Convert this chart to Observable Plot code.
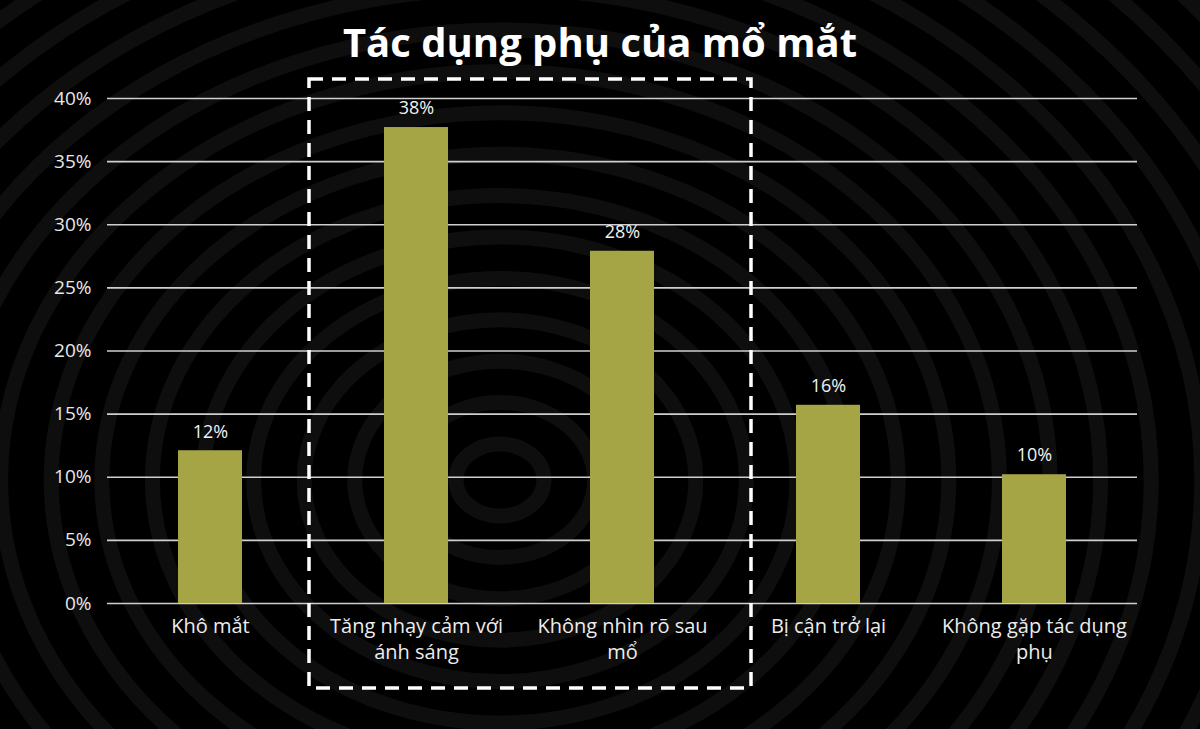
<!DOCTYPE html>
<html><head><meta charset="utf-8">
<script src="https://cdn.jsdelivr.net/npm/d3@7"></script>
<script src="https://cdn.jsdelivr.net/npm/@observablehq/plot@0.6"></script>
<style>
html,body{margin:0;padding:0;background:#000;}
#wrap{position:relative;width:1200px;height:729px;overflow:hidden;background:#000;font-family:"Open Sans",sans-serif;}
#bg{position:absolute;left:0;top:0;}
#title{position:relative;height:70px;line-height:84px;text-align:center;color:#fff;font-weight:700;font-size:40px;}
#chart{position:relative;}
</style></head>
<body><div id="wrap"><svg id="bg" width="1200" height="729"></svg><div id="title">Tác dụng phụ của mổ mắt</div><div id="chart"></div></div>
<script>
const categories = ["Khô mắt", "Tăng nhạy cảm với ánh sáng", "Không nhìn rõ sau mổ", "Bị cận trở lại", "Không gặp tác dụng phụ"];
const tickLabels = ["Khô mắt", "Tăng nhạy cảm với\nánh sáng", "Không nhìn rõ sau\nmổ", "Bị cận trở lại", "Không gặp tác dụng\nphụ"];
const values = [12.1, 37.7, 27.9, 15.7, 10.2];
const yTicks = [0, 5, 10, 15, 20, 25, 30, 35, 40];
const highlighted = ["Tăng nhạy cảm với ánh sáng", "Không nhìn rõ sau mổ"];

const data = categories.map((c, i) => ({cat: c, value: values[i]}));
const labelOf = new Map(categories.map((c, i) => [c, tickLabels[i]]));

// decorative fingerprint-like background
const bg = d3.select("#bg");
for (let r = 40; r < 1100; r += 46) {
  bg.append("ellipse").attr("cx", 500).attr("cy", 480).attr("rx", r * 1.1).attr("ry", r * 0.9)
    .attr("fill", "none").attr("stroke", "#0e0e0e").attr("stroke-width", 15);
}

const chart = Plot.plot({
  width: 1200,
  height: 659,
  marginLeft: 107,
  marginRight: 63,
  marginTop: 28,
  marginBottom: 126,
  style: {background: "transparent", color: "#eee", fontFamily: "Open Sans, sans-serif"},
  x: {domain: categories, paddingInner: 0.69, paddingOuter: 0.345, label: null},
  y: {domain: [0, 40], label: null},
  marks: [
    Plot.ruleY(yTicks, {stroke: "#cfcfcf", strokeWidth: 1.6}),
    Plot.barY(data, {x: "cat", y: "value", fill: "#a5a545"}),
    Plot.text(data, {x: "cat", y: "value", text: d => Math.round(d.value) + "%", dy: -19, fill: "#f2f2f2", fontSize: 18}),
    Plot.axisY({ticks: yTicks, tickSize: 0, tickPadding: 16, tickFormat: d => d + "%", fontSize: 19, fill: "#e8e8e8", label: null}),
    Plot.axisX({tickSize: 0, tickPadding: 11, tickFormat: d => labelOf.get(d), fontSize: 20, lineHeight: 1.3, fill: "#ececec", label: null, textOverflow: null})
  ]
});
document.getElementById("chart").appendChild(chart);

// dashed highlight box around the two highlighted categories, positioned via the chart scales
const xs = chart.scale("x"), ys = chart.scale("y");
const boxLeft = xs.apply(highlighted[0]) - 75;
const boxRight = xs.apply(highlighted[1]) + xs.bandwidth + 97;
const boxTop = ys.apply(40) - 19;
const boxBottom = ys.apply(0) + 85;
d3.select(chart).append("rect")
  .attr("x", boxLeft).attr("y", boxTop).attr("width", boxRight - boxLeft).attr("height", boxBottom - boxTop)
  .attr("fill", "none").attr("stroke", "#fff").attr("stroke-width", 3.5).attr("stroke-dasharray", "14 9");
</script></body></html>
